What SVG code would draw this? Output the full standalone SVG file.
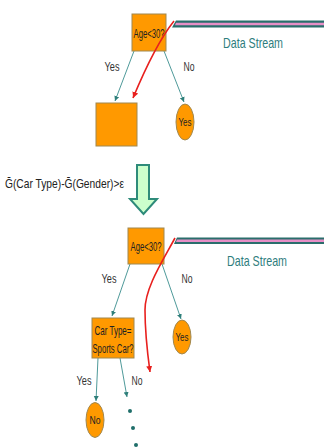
<svg xmlns="http://www.w3.org/2000/svg" width="324" height="448" viewBox="0 0 324 448">
<defs>
<marker id="ta" markerWidth="6" markerHeight="6" refX="5" refY="3" orient="auto" markerUnits="userSpaceOnUse"><path d="M0,0.5 L5,3 L0,5.5 z" fill="#2e7f7a"/></marker>
<marker id="ra" markerWidth="7" markerHeight="7" refX="6" refY="3.5" orient="auto" markerUnits="userSpaceOnUse"><path d="M0,0.5 L6,3.5 L0,6.5 z" fill="#e8201e"/></marker>
<style>
.box{fill:#ff9900;stroke:#a08850;stroke-width:1}
.lf{fill:#ff9900;stroke:#a08850;stroke-width:1}
.t{font-family:"Liberation Sans",Arial,sans-serif;font-size:13px;fill:#222;text-anchor:middle}
.s{font-size:11px}
.lbl{font-family:"Liberation Sans",Arial,sans-serif;font-size:13px;fill:#333;text-anchor:middle}
.ds{font-family:"Liberation Sans",Arial,sans-serif;font-size:15px;fill:#2e7d7d;text-anchor:middle}
.edge{stroke:#4f9a9a;stroke-width:1;fill:none;marker-end:url(#ta)}
.red{stroke:#e8201e;stroke-width:1.6;fill:none;marker-end:url(#ra)}
.teal{fill:#2a6e6c}
.pink{fill:#e78fc7}
</style>
</defs>
<g id="connectors">
<line class="edge" x1="134" y1="51" x2="115" y2="101"/>
<line class="edge" x1="164" y1="51" x2="184" y2="102"/>
<line class="edge" x1="130" y1="264" x2="112" y2="316"/>
<line class="edge" x1="162" y1="264" x2="181" y2="319"/>
<line class="edge" x1="98" y1="358" x2="96" y2="401"/>
<line class="edge" x1="120" y1="358" x2="127" y2="397"/>
</g>
<g id="stream1">
<polygon class="teal" points="176,20.5 324,20.5 324,27.5 172,27.5"/>
<polygon class="pink" points="176,22.7 324,22.7 324,25.3 175,25.3"/>
<text class="ds" x="253" y="48" textLength="60" lengthAdjust="spacingAndGlyphs">Data Stream</text>
</g>
<g id="node-age1">
<rect class="box" x="132" y="14" width="34" height="37"/>
<text class="t" x="149" y="37.5" textLength="31" lengthAdjust="spacingAndGlyphs">Age&lt;30?</text>
</g>
<g id="labels1">
<text class="lbl" x="112" y="71" textLength="15" lengthAdjust="spacingAndGlyphs">Yes</text>
<text class="lbl" x="189" y="71" textLength="11" lengthAdjust="spacingAndGlyphs">No</text>
</g>
<g id="node-leaf1">
<rect class="box" x="96" y="103" width="41" height="43"/>
</g>
<g id="node-yes1">
<ellipse class="lf" cx="185" cy="122" rx="9" ry="18"/>
<text class="t s" x="185" y="126" textLength="13" lengthAdjust="spacingAndGlyphs">Yes</text>
</g>
<path id="red1" class="red" d="M174,21 C162,36 148,62 133,98"/>
<g id="formula">
<text x="5" y="188" font-family="Liberation Sans, Arial, sans-serif" font-size="13" fill="#222" textLength="119" lengthAdjust="spacingAndGlyphs">Ḡ(Car Type)-Ḡ(Gender)&gt;ε</text>
</g>
<g id="green-arrow">
<polygon points="137,165 149,165 149,199 157,199 143.5,214 130,199 137,199" fill="#ccffcc" stroke="#2e8b7a" stroke-width="2" stroke-linejoin="miter"/>
</g>
<g id="stream2">
<polygon class="teal" points="177,237.5 324,237.5 324,244 174,244"/>
<polygon class="pink" points="177,239.6 324,239.6 324,242 176,242"/>
<text class="ds" x="257" y="266" textLength="60" lengthAdjust="spacingAndGlyphs">Data Stream</text>
</g>
<g id="node-age2">
<rect class="box" x="128" y="228" width="36" height="36"/>
<text class="t" x="146" y="250.5" textLength="31" lengthAdjust="spacingAndGlyphs">Age&lt;30?</text>
</g>
<g id="labels2">
<text class="lbl" x="109" y="283" textLength="15" lengthAdjust="spacingAndGlyphs">Yes</text>
<text class="lbl" x="187" y="283" textLength="11" lengthAdjust="spacingAndGlyphs">No</text>
<text class="lbl" x="84" y="385" textLength="15" lengthAdjust="spacingAndGlyphs">Yes</text>
<text class="lbl" x="137" y="385" textLength="11" lengthAdjust="spacingAndGlyphs">No</text>
</g>
<g id="node-cartype">
<rect class="box" x="92" y="318" width="42" height="40"/>
<text class="t" x="113" y="335" textLength="37" lengthAdjust="spacingAndGlyphs">Car Type=</text>
<text class="t" x="113" y="353" textLength="41" lengthAdjust="spacingAndGlyphs">Sports Car?</text>
</g>
<g id="node-yes2">
<ellipse class="lf" cx="182" cy="337" rx="9" ry="17"/>
<text class="t s" x="182" y="341" textLength="13" lengthAdjust="spacingAndGlyphs">Yes</text>
</g>
<g id="node-no">
<ellipse class="lf" cx="95" cy="420" rx="9" ry="17.5"/>
<text class="t s" x="95" y="424" textLength="11" lengthAdjust="spacingAndGlyphs">No</text>
</g>
<path id="red2" class="red" d="M175,238 C162,262 145,288 145,310 C145,330 147,350 150,372"/>
<g id="dots" fill="#1f6e6a">
<circle cx="130" cy="411" r="2"/>
<circle cx="133" cy="428" r="2"/>
<circle cx="136" cy="445" r="2"/>
</g>
</svg>
